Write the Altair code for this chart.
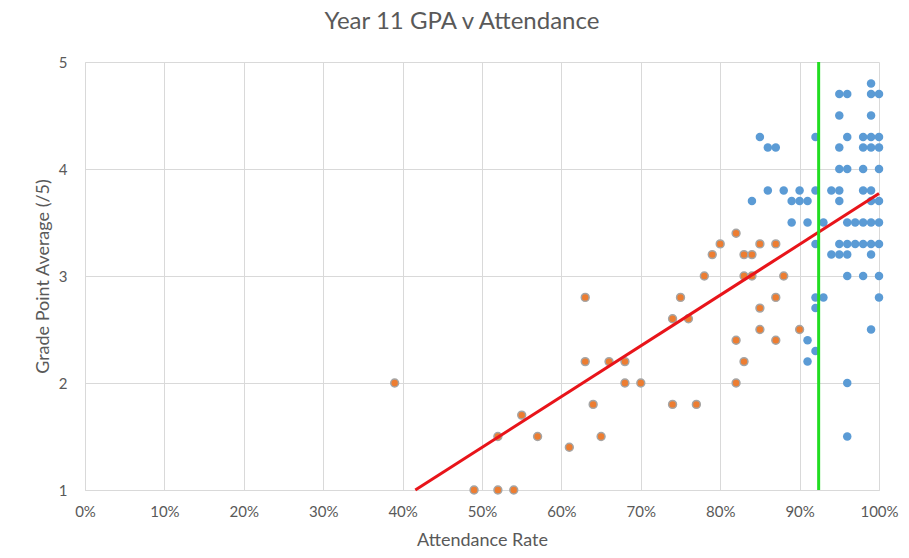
import altair as alt
import pandas as pd

# Blue series (attendance %, GPA)
blue_x = [99, 95, 96, 99, 100, 95, 99,
          85, 92, 96, 98, 99, 100,
          86, 87, 95, 98, 99, 100,
          95, 96, 98, 100,
          86, 88, 90, 92, 94, 95, 98, 99,
          84, 89, 90, 91, 95, 99, 100,
          89, 91, 93, 96, 97, 98, 99, 100,
          92, 95, 96, 97, 98, 99, 100,
          94, 95, 96, 99,
          96, 98, 100,
          92, 93, 100,
          92, 99, 91, 92, 91, 96, 96]
blue_y = [4.8, 4.7, 4.7, 4.7, 4.7, 4.5, 4.5,
          4.3, 4.3, 4.3, 4.3, 4.3, 4.3,
          4.2, 4.2, 4.2, 4.2, 4.2, 4.2,
          4.0, 4.0, 4.0, 4.0,
          3.8, 3.8, 3.8, 3.8, 3.8, 3.8, 3.8, 3.8,
          3.7, 3.7, 3.7, 3.7, 3.7, 3.7, 3.7,
          3.5, 3.5, 3.5, 3.5, 3.5, 3.5, 3.5, 3.5,
          3.3, 3.3, 3.3, 3.3, 3.3, 3.3, 3.3,
          3.2, 3.2, 3.2, 3.2,
          3.0, 3.0, 3.0,
          2.8, 2.8, 2.8,
          2.7, 2.5, 2.4, 2.3, 2.2, 2.0, 1.5]

# Orange series
orange_x = [39, 49, 52, 54, 52, 57, 65, 55, 61, 63, 63, 64, 66, 68, 68, 70,
            74, 76, 74, 77, 75, 78, 79, 80, 82, 82, 82, 83, 83, 83, 84, 84,
            85, 85, 85, 87, 87, 87, 88, 90]
orange_y = [2.0, 1.0, 1.0, 1.0, 1.5, 1.5, 1.5, 1.7, 1.4, 2.8, 2.2, 1.8, 2.2, 2.2, 2.0, 2.0,
            2.6, 2.6, 1.8, 1.8, 2.8, 3.0, 3.2, 3.3, 3.4, 2.4, 2.0, 3.2, 3.0, 2.2, 3.2, 3.0,
            3.3, 2.7, 2.5, 3.3, 2.8, 2.4, 3.0, 2.5]

# Trend line end points and threshold line
trend_x = [41.6, 100]
trend_y = [1.0, 3.77]
threshold_x = 92.4

x_ticks = [0, 10, 20, 30, 40, 50, 60, 70, 80, 90, 100]
y_ticks = [1, 2, 3, 4, 5]

blue_df = pd.DataFrame({"att": blue_x, "gpa": blue_y})
orange_df = pd.DataFrame({"att": orange_x, "gpa": orange_y})
trend_df = pd.DataFrame({"att": trend_x, "gpa": trend_y})
thr_df = pd.DataFrame({"att": [threshold_x], "lo": [1], "hi": [5]})

FONT = "Lato"
GRAY = "#595959"

xscale = alt.Scale(domain=[0, 100], nice=False, zero=False)
yscale = alt.Scale(domain=[1, 5], nice=False, zero=False)

xaxis = alt.Axis(values=x_ticks, labelExpr="datum.value + '%'", title="Attendance Rate",
                 grid=True, gridColor="#d9d9d9", ticks=False, domain=True, domainColor="#d9d9d9",
                 labelFlush=False, labelBound=False,
                 labelFont=FONT, labelFontSize=15, labelColor=GRAY, labelPadding=14,
                 titleFont=FONT, titleFontSize=18, titleFontWeight="normal", titleColor=GRAY,
                 titlePadding=12)
yaxis = alt.Axis(values=y_ticks, format="d", title="Grade Point Average (/5)",
                 grid=True, gridColor="#d9d9d9", ticks=False, domain=True, domainColor="#d9d9d9",
                 labelFlush=False, labelBound=False,
                 labelFont=FONT, labelFontSize=15, labelColor=GRAY, labelPadding=18,
                 titleFont=FONT, titleFontSize=18, titleFontWeight="normal", titleColor=GRAY,
                 titlePadding=6)

blue = alt.Chart(blue_df).mark_circle(size=72, color="#5b9bd5", opacity=1).encode(
    x=alt.X("att:Q", scale=xscale, axis=xaxis),
    y=alt.Y("gpa:Q", scale=yscale, axis=yaxis),
)
orange = alt.Chart(orange_df).mark_point(size=62, filled=True, fill="#ed7d31", stroke="#a5a5a5",
                                          strokeWidth=1.5, opacity=1, shape="circle").encode(
    x="att:Q", y="gpa:Q"
)
trend = alt.Chart(trend_df).mark_line(color="#e8141a", strokeWidth=3).encode(
    x="att:Q", y="gpa:Q"
)
thr = alt.Chart(thr_df).mark_rule(color="#22dd22", strokeWidth=3).encode(
    x="att:Q", y="lo:Q", y2="hi:Q"
)

chart = alt.layer(blue, orange, trend, thr).properties(
    width=794, height=428,
    title=alt.TitleParams("Year 11 GPA v Attendance", font=FONT, fontSize=24, fontWeight="normal",
                          color=GRAY, anchor="middle", offset=21, dx=-20),
    autosize=alt.AutoSizeParams(type="none"),
    padding={"left": 77, "top": 54, "right": 22, "bottom": 60},
).configure_view(stroke=None)

chart.save("out.html", embed_options={"renderer": "svg", "actions": False})
